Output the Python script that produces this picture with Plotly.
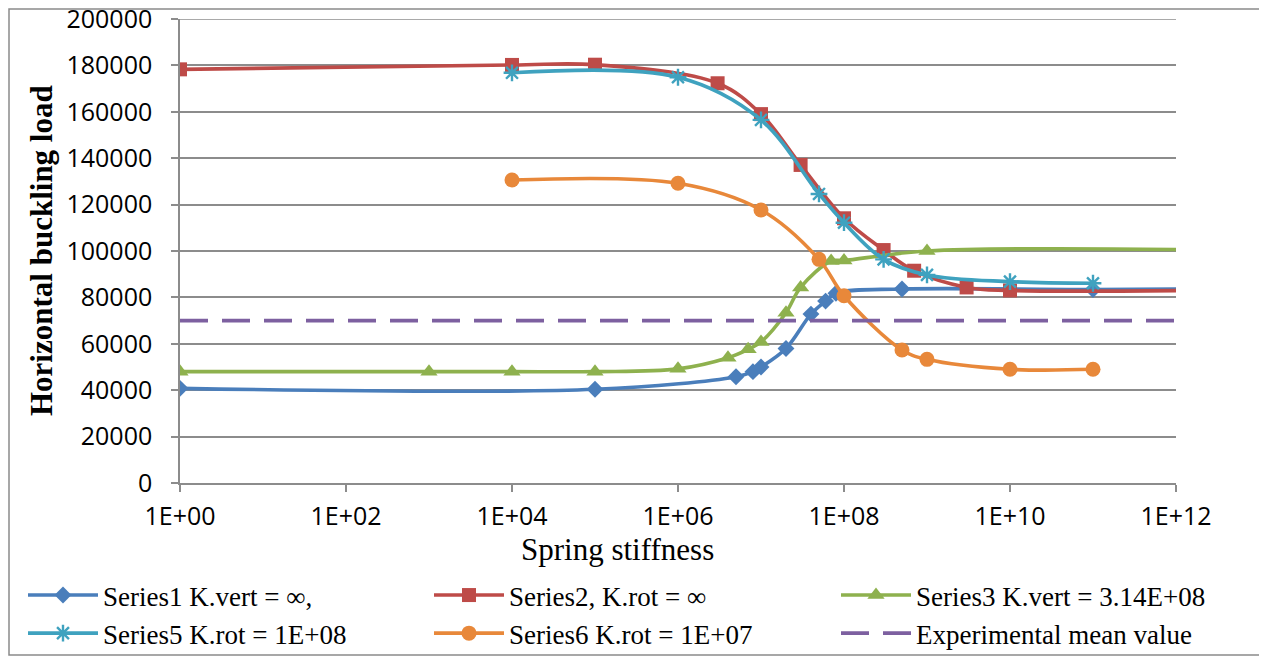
import plotly.graph_objects as go

# ---------------- data ----------------
s1_x = [1, 1e5, 5e6, 8e6, 1e7, 2e7, 4e7, 6e7, 8e7, 5e8, 1e11, 1e13]
s1_y = [40800, 40400, 45800, 48000, 50000, 58000, 72800, 78400, 81800, 83600, 83400, 83800]

s2_x = [1, 1e4, 1e5, 3e6, 1e7, 3e7, 1e8, 3e8, 7e8, 3e9, 1e10, 1e13]
s2_y = [178300, 180200, 180300, 172300, 159000, 137100, 114100, 100400, 91500, 84300, 83000, 83300]

s3_x = [1, 1e3, 1e4, 1e5, 1e6, 4e6, 7e6, 1e7, 2e7, 3e7, 7e7, 1e8, 1e9, 1e13]
s3_y = [48000, 48000, 48000, 48000, 49200, 54000, 57600, 60800, 73400, 84300, 95700, 95900, 100000, 100200]

s5_x = [1e4, 1e6, 1e7, 5e7, 1e8, 3e8, 1e9, 1e10, 1e11]
s5_y = [176800, 174900, 156500, 124600, 112200, 96400, 89700, 86800, 86100]

s6_x = [1e4, 1e6, 1e7, 5e7, 1e8, 5e8, 1e9, 1e10, 1e11]
s6_y = [130600, 129200, 117700, 96400, 80700, 57300, 53300, 49000, 49000]

exp_x = [1, 1e12]
exp_y = [70000, 70000]

names = ["Series1 K.vert = ∞,", "Series2, K.rot = ∞", "Series3 K.vert = 3.14E+08",
         "Series5 K.rot = 1E+08", "Series6 K.rot = 1E+07", "Experimental mean value"]

x_tickvals = [1, 1e2, 1e4, 1e6, 1e8, 1e10, 1e12]
x_ticktext = ["1E+00", "1E+02", "1E+04", "1E+06", "1E+08", "1E+10", "1E+12"]
y_tickvals = list(range(0, 200001, 20000))
y_ticktext = [str(v) for v in y_tickvals]
y_max = y_tickvals[-1]

# ---------------- styles ----------------
BLUE = "#4A7EBB"
RED = "#BE4B48"
GREEN = "#8EB14E"
CYAN = "#3FA2BF"
ORANGE = "#E8883A"
PURPLE = "#7D60A0"
GRID = "#8C8C8C"
SERIF = "Liberation Serif"
SANS = "Open Sans"
LW = 3.6

fig = go.Figure()

def add(x, y, name, color, symbol, size, legend, mline=None):
    marker = dict(symbol=symbol, size=size, color=color)
    if mline is not None:
        marker["line"] = dict(color=color, width=mline)
    fig.add_trace(go.Scatter(
        x=x, y=y, name=name, mode="lines+markers",
        line=dict(color=color, width=LW, shape="spline", smoothing=1.0),
        marker=marker, legend=legend, cliponaxis=True))

add(s1_x, s1_y, names[0], BLUE, "diamond", 13, "legend")
add(s2_x, s2_y, names[1], RED, "square", 14, "legend2")
add(s3_x, s3_y, names[2], GREEN, "triangle-up", 15, "legend3")
add(s5_x, s5_y, names[3], CYAN, "asterisk-open", 14, "legend", mline=2.4)
add(s6_x, s6_y, names[4], ORANGE, "circle", 15, "legend2")
fig.add_trace(go.Scatter(
    x=exp_x, y=exp_y, name=names[5], mode="lines",
    line=dict(color=PURPLE, width=LW, dash="28px,14px"), legend="legend3"))

# the page body adds an 8px offset; work in reference-pixel coordinates
OFF = 8
W, H = 1267 - OFF, 657 - OFF
PL, PR, PT, PB = 180 - OFF, 1176 - OFF, 19 - OFF, 483 - OFF   # plot area in figure px
ML, MR, MT, MB = PL, W - PR, PT, H - PB
PW, PH = PR - PL, PB - PT

def px_x(p):
    return (p - OFF - PL) / PW

def px_y(p):
    return (PB - (p - OFF)) / PH

leg_common = dict(
    orientation="v", xanchor="left", yanchor="top",
    font=dict(family=SERIF, size=27, color="#000000"),
    bgcolor="rgba(0,0,0,0)", itemwidth=70, tracegroupgap=0,
    itemclick=False, itemdoubleclick=False,
)

fig.update_layout(
    width=W, height=H,
    margin=dict(l=ML, r=MR, t=MT, b=MB, autoexpand=False),
    paper_bgcolor="white", plot_bgcolor="white",
    showlegend=True,
    legend=dict(x=px_x(23), y=px_y(571), **leg_common),
    legend2=dict(x=px_x(429), y=px_y(571), **leg_common),
    legend3=dict(x=px_x(836), y=px_y(571), **leg_common),
    xaxis=dict(
        type="log", range=[0, 12],
        tickvals=x_tickvals, ticktext=x_ticktext,
        tickfont=dict(family=SANS, size=25, color="#000000"),
        showgrid=False, zeroline=False,
        showline=True, linecolor=GRID, linewidth=1.5,
        ticks="outside", ticklen=7, tickcolor=GRID, tickwidth=1.5,
        ticklabelstandoff=3,
    ),
    yaxis=dict(
        range=[0, y_max],
        tickvals=y_tickvals, ticktext=y_ticktext,
        tickfont=dict(family=SANS, size=25, color="#000000"),
        showgrid=True, gridcolor=GRID, gridwidth=1.5,
        zeroline=False,
        showline=True, linecolor=GRID, linewidth=1.5,
        ticks="outside", ticklen=7, tickcolor=GRID, tickwidth=1.5,
        ticklabelstandoff=14, ticklabeloverflow="allow",
    ),
    annotations=[
        dict(text="<b>Horizontal buckling load</b>", textangle=-90,
             xref="paper", yref="paper", x=px_x(41), y=px_y(251),
             xanchor="center", yanchor="middle", showarrow=False,
             font=dict(family=SERIF, size=31, color="#000000")),
        dict(text="Spring stiffness",
             xref="paper", yref="paper", x=px_x(617), y=px_y(549),
             xanchor="center", yanchor="middle", showarrow=False,
             font=dict(family=SERIF, size=31, color="#000000")),
    ],
    shapes=[
        dict(type="rect", xref="paper", yref="paper",
             x0=px_x(9), x1=px_x(1265), y0=px_y(655), y1=px_y(9),
             line=dict(color="#8A8A8A", width=1.5), layer="below"),
        # top gridline + tick at the axis maximum
        dict(type="line", xref="paper", yref="y",
             x0=px_x(172), x1=1, y0=y_max, y1=y_max,
             line=dict(color=GRID, width=1.5), layer="below"),
    ],
)

fig.write_html("out.html")
